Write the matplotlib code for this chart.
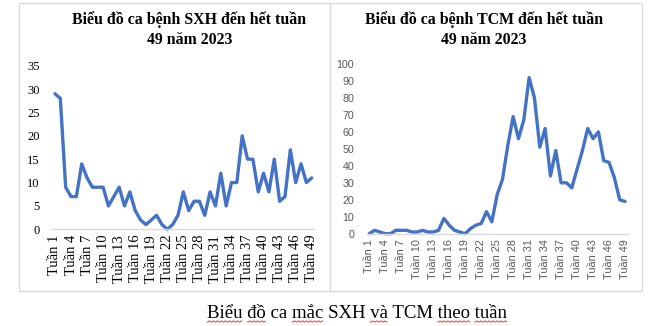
import numpy as np
import matplotlib
matplotlib.use("Agg")
import matplotlib.pyplot as plt
from matplotlib.patches import Rectangle
from matplotlib.lines import Line2D

# Weekly case counts, weeks 1..49 of 2023
weeks = list(range(1, 50))
sxh_cases = [29, 28, 9, 7, 7, 14, 11, 9, 9, 9,
             5, 7, 9, 5, 8, 4, 2, 1, 2, 3,
             1, 0, 1, 3, 8, 4, 6, 6, 3, 8,
             5, 12, 5, 10, 10, 20, 15, 15, 8, 12,
             8, 15, 6, 7, 17, 10, 14, 10, 11]
tcm_cases = [0, 2, 1, 0, 0, 2, 2, 2, 1, 1,
             2, 1, 1, 2, 9, 5, 2, 1, 0, 3,
             5, 6, 13, 7, 23, 32, 52, 69, 56, 67,
             92, 80, 51, 62, 34, 49, 30, 30, 27, 38,
             49, 62, 56, 60, 43, 42, 33, 20, 19]
tick_weeks = list(range(1, 50, 3))
tick_labels = [f"Tuần {w}" for w in tick_weeks]

sxh_title = ["Biểu đồ ca bệnh SXH đến hết tuần", "49 năm 2023"]
tcm_title = ["Biểu đồ ca bệnh TCM đến hết tuần", "49 năm 2023"]
caption = "Biểu đồ ca mắc SXH và TCM theo tuần"

W, H = 651, 326
DPI = 100
LINE_COLOR = "#4472C4"
BORDER = "#D9D9D9"
CAP_FS = 13.5

fig = plt.figure(figsize=(W / DPI, H / DPI), dpi=DPI)
fig.patch.set_facecolor("white")


def px_box(x0, y0, x1, y1):
    """Pixel box (top-left origin) -> figure-fraction [l, b, w, h]."""
    return [x0 / W, 1 - y1 / H, (x1 - x0) / W, (y1 - y0) / H]


# Chart panel frames
for (x0, x1) in [(19, 330), (330, 642)]:
    fig.add_artist(Rectangle((x0 / W, 1 - 291 / H), (x1 - x0) / W, 288 / H,
                             transform=fig.transFigure, fill=False,
                             edgecolor=BORDER, linewidth=0.9))


def style_axes(ax, values, ymax, ystep, family, ycolor, yfs, xfs):
    ax.plot(weeks, values, color=LINE_COLOR, linewidth=2.4,
            solid_joinstyle="round", solid_capstyle="round", clip_on=False)
    ax.set_xlim(0.5, 49.5)
    ax.set_ylim(0, ymax)
    ax.set_yticks(np.arange(0, ymax + 1, ystep))
    ax.set_xticks(tick_weeks)
    ax.set_xticklabels(tick_labels, rotation=90, family=family,
                       fontsize=xfs, color=ycolor)
    for lab in ax.get_yticklabels():
        lab.set_family(family)
        lab.set_fontsize(yfs)
        lab.set_color(ycolor)
    for s in ["top", "right", "left"]:
        ax.spines[s].set_visible(False)
    ax.spines["bottom"].set_color(BORDER)
    ax.spines["bottom"].set_linewidth(1.0)
    ax.tick_params(axis="both", length=0)
    ax.tick_params(axis="y", pad=9)
    ax.tick_params(axis="x", pad=4)
    ax.set_facecolor("none")


ax1 = fig.add_axes(px_box(52.3, 65.7, 314.4, 229.3))
style_axes(ax1, sxh_cases, 35, 5, "Liberation Serif", "black", 9, 10.5)

ax2 = fig.add_axes(px_box(366.6, 64.0, 627.7, 233.7))
style_axes(ax2, tcm_cases, 100, 10, "Liberation Sans", "#595959", 7.7, 7.8)

# Chart titles
for cx, lines in [(189.5, sxh_title), (484, tcm_title)]:
    for cy, line in zip([19.5, 40.5], lines):
        fig.text(cx / W, 1 - cy / H, line, ha="center", va="center",
                 family="Liberation Serif", fontweight="bold", fontsize=11.4)

# Caption under the charts
cap = fig.text(357 / W, 1 - 313 / H, caption, ha="center", va="center",
               family="Liberation Serif", fontsize=CAP_FS)

# Red wavy proofing underlines beneath some caption words
fig.canvas.draw()
renderer = fig.canvas.get_renderer()
cap_bb = cap.get_window_extent(renderer)
flagged = ["Biểu", "đồ", "mắc", "và", "theo", "tuần"]


def prefix_width(s):
    if not s:
        return 0.0
    t = fig.text(0, 0, s, family="Liberation Serif", fontsize=CAP_FS)
    w = t.get_window_extent(renderer).width
    t.remove()
    return w


pos = 0
for word in flagged:
    i = caption.index(word, pos)
    pos = i + len(word)
    x0 = cap_bb.x0 + prefix_width(caption[:i])
    x1 = cap_bb.x0 + prefix_width(caption[:i + len(word)])
    xs = np.arange(x0, x1 + 0.01, 1.0)
    ys = cap_bb.y0 - 0.5 + 1.0 * ((np.arange(len(xs)) % 4) >= 2)
    fig.add_artist(Line2D(xs / W, ys / H, transform=fig.transFigure,
                          color="#E02020", linewidth=0.6))

fig.savefig("out.png", dpi=DPI, facecolor="white")
